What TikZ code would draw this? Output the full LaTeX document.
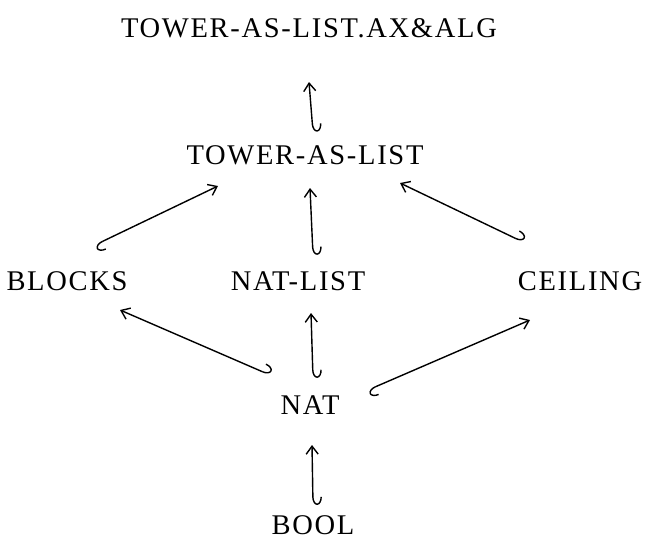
\documentclass[tikz,border=0pt]{standalone}
\usepackage{fontspec}
\setmainfont{Liberation Serif}[LetterSpace=6]
\usetikzlibrary{arrows.meta,calc}
\begin{document}
\begin{tikzpicture}[x=1pt,y=-1pt,
  lbl/.style={inner sep=0pt,font=\fontsize{28.5}{32}\selectfont},
  incl/.style={line width=1.4pt,{Hooks[left,length=8pt,width=18pt,line width=1.4pt]}-{Straight Barb[length=8pt,width=12pt]}}]
\useasboundingbox (0,0) rectangle (645,552);
\node[lbl] (top) at (309,28) {TOWER-AS-LIST.AX\&ALG};
\node[lbl] (tl) at (305,155) {TOWER-AS-LIST};
\node[lbl] (bl) at (67,281) {BLOCKS};
\node[lbl] (nl) at (298,281) {NAT-LIST};
\node[lbl] (ce) at (580,281) {CEILING};
\node[lbl] (nat) at (310,405) {NAT};
\node[lbl] (bool) at (313,525) {BOOL};
\draw[incl] ($(tl)+(8,-23)$) -- ($(top)+(0,54)$);
\draw[incl] ($(nl)+(15,-26)$) -- ($(tl)+(5,33)$);
\draw[incl] ($(bl)+(28,-36)$) -- ($(tl)+(-87,31)$);
\draw[incl] ($(ce)+(-57,-39)$) -- ($(tl)+(95,28)$);
\draw[incl] ($(nat)+(3,-27)$) -- ($(nl)+(13,32)$);
\draw[incl] ($(nat)+(-40,-30)$) -- ($(bl)+(53,29)$);
\draw[incl] ($(nat)+(58,-15)$) -- ($(ce)+(-50,39)$);
\draw[incl] ($(bool)+(0,-20)$) -- ($(nat)+(2,40)$);
\end{tikzpicture}
\end{document}
